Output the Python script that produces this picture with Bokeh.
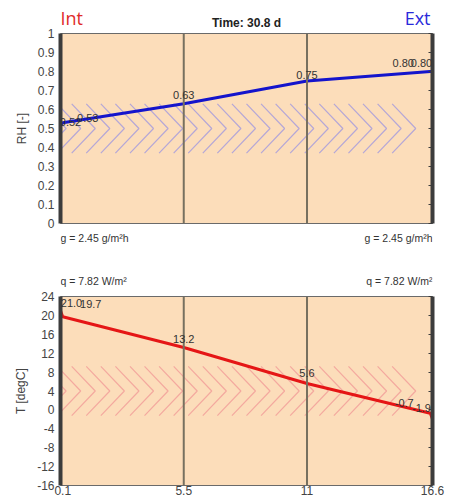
from bokeh.plotting import figure
from bokeh.layouts import column
from bokeh.models import (LabelSet, LinearAxis, Span, FixedTicker,
                          ColumnDataSource, Range1d)
from bokeh.core.properties import value
from bokeh.embed import file_html
from bokeh.resources import INLINE

# ---------------- data ----------------
time_title = "Time: 30.8 d"
side_int = "Int"
side_ext = "Ext"
x_pos = [0.0, 0.1, 5.5, 11.0, 16.5, 16.6]
rh_values = [0.52, 0.53, 0.63, 0.75, 0.80, 0.80]
rh_labels = ["0.52", "0.53", "0.63", "0.75", "0.80", "0.80"]
t_values = [21.0, 19.7, 13.2, 5.6, -0.7, -1.9]
t_labels = ["21.0", "19.7", "13.2", "5.6", "-0.7", "-1.9"]
layer_bounds = [5.5, 11.0]
x_ticks = [0.1, 5.5, 11, 16.6]
x_tick_labels = ["0.1", "5.5", "11", "16.6"]
rh_ticks = [0, 0.1, 0.2, 0.3, 0.4, 0.5, 0.6, 0.7, 0.8, 0.9, 1]
t_ticks = [-16, -12, -8, -4, 0, 4, 8, 12, 16, 20, 24]
t_tick_labels = ["-16", "-12", "-8", "-4", "0", "4", "8", "12", "16", "20", "24"]
g_text = "g = 2.45 g/m\u00b2h"
q_text = "q = 7.82 W/m\u00b2"
rh_axis_label = "RH [-]"
t_axis_label = "T [degC]"

# ---------------- style ----------------
FONT = "Liberation Sans"
PEACH = "#FCDDBA"
AXC = "#3c3c3c"
TXT = "#444444"
W = 452
LEFT, RIGHT = 60, 20
X0, X1 = 0.0, 16.6
rh_dx = [10, 25, 0, 0, -27, -11]
rh_dy = [3, 5, 9, 6, 9, 9]
t_dx = [11, 28, 0, 0, -26, -11]
t_dy = [8, 13, 9, 10, 10, 11]


def chevrons(y_lo, y_hi, first_tip, last_tip, step, arm):
    xs, ys = [], []
    y_mid = (y_lo + y_hi) / 2.0
    n = int(round((last_tip - first_tip) / step)) + 1
    for i in range(n):
        tip = first_tip + i * step
        xs.append([tip - arm, tip, tip - arm])
        ys.append([y_hi, y_mid, y_lo])
    return xs, ys


def strip(height):
    # text strip whose frame lines up with the plot frames below/above it
    s = figure(width=W, height=height, x_range=Range1d(X0, X1),
               y_range=Range1d(height, 0), output_backend="svg",
               toolbar_location=None, min_border_left=LEFT,
               min_border_right=RIGHT, min_border_top=0, min_border_bottom=0)
    s.xaxis.visible = False
    s.yaxis.visible = False
    s.xgrid.visible = False
    s.ygrid.visible = False
    s.outline_line_color = None
    s.background_fill_color = "white"
    s.border_fill_color = "white"
    return s


def base_fig(height, y_lo, y_hi, ticks, labels, min_top, min_bottom):
    p = figure(width=W, height=height, x_range=Range1d(X0, X1),
               y_range=Range1d(y_lo, y_hi), output_backend="svg",
               toolbar_location=None, min_border_left=LEFT,
               min_border_right=RIGHT, min_border_top=min_top,
               min_border_bottom=min_bottom)
    p.background_fill_color = PEACH
    p.border_fill_color = "white"
    p.outline_line_color = "#6a6a6a"
    p.outline_line_width = 1
    p.xgrid.visible = False
    p.ygrid.visible = False
    yax = p.yaxis[0]
    yax.ticker = FixedTicker(ticks=ticks)
    if labels is not None:
        yax.major_label_overrides = dict(zip(ticks, labels))
    yax.axis_line_width = 4
    yax.axis_line_color = AXC
    yax.major_tick_in = 0
    yax.major_tick_out = 0
    yax.minor_tick_line_color = None
    yax.major_label_text_font = FONT
    yax.major_label_text_font_size = "12px"
    yax.major_label_text_color = TXT
    yax.major_label_standoff = 6
    yax.axis_label_text_font = FONT
    yax.axis_label_text_font_size = "12px"
    yax.axis_label_text_font_style = "normal"
    yax.axis_label_text_color = TXT
    yax.axis_label_standoff = 6
    right = LinearAxis(ticker=FixedTicker(ticks=ticks),
                       major_label_overrides={t: "" for t in ticks},
                       axis_line_width=4, axis_line_color=AXC,
                       major_tick_in=4, major_tick_out=0,
                       major_tick_line_color=AXC, minor_tick_line_color=None)
    p.add_layout(right, "right")
    for b in layer_bounds:
        p.add_layout(Span(location=b, dimension="height",
                          line_color="#77705f", line_width=2))
    return p


def value_labels(p, xs, ys, texts, dx, dy):
    src = ColumnDataSource(dict(x=xs, y=ys, text=texts, dx=dx, dy=dy))
    p.add_layout(LabelSet(x="x", y="y", text="text", x_offset="dx",
                          y_offset="dy", source=src, text_align="center",
                          text_baseline="middle", text_font=value(FONT),
                          text_font_size=value("11px"),
                          text_color="#333333"))


# ---------------- header strip ----------------
head = strip(28)
head.text(x=[X0], y=[17], text=[side_int], x_offset=0,
          text_align="left", text_baseline="middle",
          text_font=value("Open Sans"), text_font_size=value("18px"),
          text_color="#E02A2A")
head.text(x=[X1], y=[17], text=[side_ext], x_offset=-2,
          text_align="right", text_baseline="middle",
          text_font=value("Open Sans"), text_font_size=value("18px"),
          text_color="#2A2ADA")
head.text(x=[(X0 + X1) / 2], y=[22], text=[time_title],
          text_align="center", text_baseline="middle",
          text_font=value(FONT), text_font_size=value("12px"),
          text_font_style="bold", text_color="#222222")

# ---------------- top: RH ----------------
p1 = base_fig(203, 0, 1, rh_ticks, None, 5, 8)
p1.xaxis.visible = False
p1.yaxis[0].axis_label = rh_axis_label
hx, hy = chevrons(0.37, 0.63, 0.25, 16.05, 0.65, 1.05)
p1.multi_line(hx, hy, line_color="#A89EDC", line_width=1.2, line_alpha=0.85)
p1.line(x_pos, rh_values, line_color="#1414CC", line_width=3)
value_labels(p1, x_pos, rh_values, rh_labels, rh_dx, rh_dy)

# ---------------- middle strip ----------------
mid = strip(57)
for xx, al in ((X0, "left"), (X1, "right")):
    mid.text(x=[xx], y=[6], text=[g_text], text_align=al,
             text_baseline="middle", text_font=value(FONT),
             text_font_size=value("10.5px"), text_color="#333333")
    mid.text(x=[xx], y=[49], text=[q_text], text_align=al,
             text_baseline="middle", text_font=value(FONT),
             text_font_size=value("10.5px"), text_color="#333333")

# ---------------- bottom: T ----------------
p2 = base_fig(211, -16, 24, t_ticks, t_tick_labels, 8, 14)
p2.yaxis[0].axis_label = t_axis_label
xax = p2.xaxis[0]
xax.ticker = FixedTicker(ticks=x_ticks)
xax.major_label_overrides = dict(zip(x_ticks, x_tick_labels))
xax.axis_line_color = None
xax.major_tick_in = 0
xax.major_tick_out = 0
xax.minor_tick_line_color = None
xax.major_label_text_font = FONT
xax.major_label_text_font_size = "12px"
xax.major_label_text_color = TXT
xax.major_label_standoff = 0
hx2, hy2 = chevrons(-1.2, 9.2, 0.25, 16.05, 0.65, 1.05)
p2.multi_line(hx2, hy2, line_color="#F2A09A", line_width=1.2, line_alpha=0.85)
p2.line(x_pos, t_values, line_color="#E51616", line_width=3)
value_labels(p2, x_pos, t_values, t_labels, t_dx, t_dy)

layout = column(head, p1, mid, p2, spacing=0)
open("out.html", "w").write(file_html(layout, INLINE))
